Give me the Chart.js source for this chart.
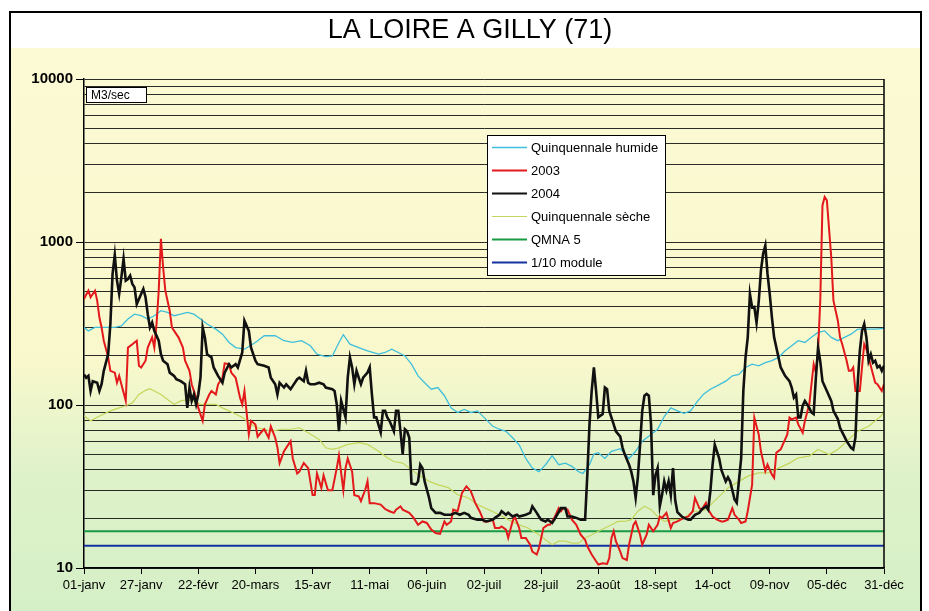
<!DOCTYPE html>
<html>
<head>
<meta charset="utf-8">
<title>La Loire à Gilly</title>
<script src="https://cdn.jsdelivr.net/npm/chart.js@4.4.1/dist/chart.umd.min.js"></script>
<style>
  html, body { margin: 0; padding: 0; background: #fff; }
  #wrap { width: 929px; height: 611px; position: relative; }
</style>
</head>
<body>
<div id="wrap"><canvas id="debitChart"></canvas></div>
<script>
const chartTitle = 'LA LOIRE A GILLY (71)';
const unitLabel = 'M3/sec';

// x axis: day of year, one tick every 26 days
const dayTicks = [0, 26, 52, 78, 104, 130, 156, 182, 208, 234, 260, 286, 312, 338, 364];
const dayLabels = ['01-janv', '27-janv', '22-févr', '20-mars', '15-avr', '11-mai', '06-juin',
  '02-juil', '28-juil', '23-août', '18-sept', '14-oct', '09-nov', '05-déc', '31-déc'];
const yLabels = [10, 100, 1000, 10000];

// débits journaliers (m3/s)
const days2003 = [0,2,3,5,6,7,8,9,11,12,14,15,16,17,19,20,22,23,24,25,26,28,29,31,32,33,34,35,36,37,39,40,42,43,45,46,48,49,51,52,54,55,57,58,60,61,63,64,66,67,69,71,72,73,75,76,78,79,81,82,84,85,87,88,89,91,94,95,97,98,100,102,104,105,106,108,109,111,113,115,116,118,119,120,122,123,125,126,128,129,130,132,135,137,139,141,142,144,145,148,150,152,154,156,158,160,162,164,165,167,168,170,172,174,176,178,180,182,184,186,187,189,190,192,193,195,196,198,199,201,203,204,206,207,209,211,212,214,216,217,218,220,222,224,226,228,229,231,233,234,236,238,239,240,241,242,244,245,247,248,250,251,253,254,256,257,259,261,262,263,265,267,268,270,273,275,277,278,280,281,283,284,286,288,290,291,293,295,296,298,299,301,302,304,305,307,308,310,311,313,314,315,317,318,320,321,322,324,325,327,328,330,332,333,334,335,336,337,338,340,341,343,344,345,347,348,349,350,351,353,354,355,356,357,359,360,361,363,364];
const flow2003 = [447,503,458,503,437,345,299,248,196,162,158,137,151,134,106,225,236,242,248,174,170,187,225,260,225,314,503,1046,700,503,379,299,272,260,225,187,162,134,111,96,80,101,116,122,116,134,147,180,178,158,147,111,101,122,66,80,76,64,69,71,63,74,63,55,44,52,60,47,38,39,44,41,28,28,38,31,37,30,30,41,49,30,41,47,39,28,27.5,25.7,30.3,34,25,25,24.5,23,22.3,21.8,22.8,23.9,22.8,21.8,20.3,18.4,19.3,18.9,17.2,16.4,16.2,19.3,18.4,19.3,22.8,22.3,28.9,31.7,29.6,25.1,22.3,19.3,19.3,19.8,17.6,17.6,18,17.2,15.3,19.3,20.7,17.6,15.3,15.3,13.9,12.6,12.1,13.2,17.6,18.4,18.4,20.3,23.3,22.3,23.3,22.8,19.8,18.4,16,14.9,13.6,12.1,11,10.5,10.7,10.6,11.5,15.3,16.8,14.6,12.6,11.5,11.2,13.9,18.4,19.3,16,13.9,16,18.4,16.8,18.4,20.7,20.3,21.8,17.6,18.9,19.3,20.3,20.7,22.3,26.9,23.3,22.8,25.1,22.8,20.7,19.8,19.3,19.3,19.8,23.3,21.2,19.8,18.9,19.3,22.3,32.5,83.6,66,52,39.3,43.1,37.4,35.7,50.9,53.4,57.3,66,83.6,81.6,83.6,76,67.6,79.7,101,178,158,215,437,1677,1888,1800,807,437,329,260,236,187,162,162,170,122,122,170,236,220,196,154,137,134,122,134];

const days2004 = [0,1,2,3,4,6,7,8,9,11,12,13,14,15,16,17,18,19,20,21,22,23,24,26,27,28,29,30,31,32,34,35,36,38,39,41,42,44,46,47,48,49,50,51,52,53,54,55,56,58,59,61,63,64,66,67,69,70,72,73,75,76,78,79,82,84,85,87,88,89,91,92,94,95,97,98,100,101,102,103,105,107,109,110,113,114,115,116,117,119,120,121,122,123,124,125,126,127,129,130,131,132,133,135,136,137,138,139,141,142,143,144,145,146,147,148,149,151,152,153,154,155,157,158,160,162,164,167,169,171,173,175,176,179,181,183,186,187,189,190,192,193,195,197,198,201,203,204,206,207,208,210,211,213,214,216,217,219,220,222,224,226,228,229,230,231,232,233,234,236,237,238,239,241,242,244,245,246,248,249,250,251,252,253,254,255,256,257,258,259,260,261,262,263,264,265,266,267,268,269,270,272,273,275,276,278,280,281,283,284,285,286,287,289,290,292,293,294,295,296,297,299,300,301,302,303,304,305,306,307,308,309,310,311,312,313,314,316,317,319,321,322,323,324,325,326,327,328,330,331,332,333,334,335,336,338,340,341,343,344,346,347,349,350,351,352,353,354,355,356,357,358,359,360,361,362,363,364];
const flow2004 = [154,147,151,122,140,137,122,134,162,205,314,637,830,580,480,607,788,580,593,622,553,527,416,480,515,458,361,299,321,285,248,205,187,178,158,151,144,140,134,96,128,106,116,101,116,147,299,260,205,196,170,151,137,158,178,170,178,170,210,329,285,225,187,178,174,170,147,134,116,137,128,134,125,131,144,147,140,162,137,134,134,137,134,128,125,122,101,69,106,84,147,196,170,134,162,147,134,147,158,170,116,84,84,68,92,92,84,80,69,92,92,69,50,71,69,63,33,32.5,34,43,41,34,27,23.3,21.8,21.8,21.2,21.2,21.8,21.2,21.8,21.2,20.3,19.8,19.8,19.3,19.8,20.3,21.2,22.3,21.2,21.8,20.7,21.2,20.7,21.2,21.8,23.9,21.8,20.7,19.8,19.3,19.8,18.9,19.8,22,23.3,23.3,20.7,20.7,20.3,19.8,19.8,37,76,122,170,122,84,88,128,125,92,76,69,64,55,50,43,39,34,27,36,57,92,114,117,114,76,28,37,41,24,28,34,30,34,28,41,26,22,20.7,20.3,19.8,19.8,21.2,21.8,22.8,23.9,22.8,29.6,43,57,47,40,34,36,34,30,26.3,25.1,47,122,196,260,480,397,400,320,430,668,846,951,637,480,345,260,196,170,151,140,128,111,116,84,84,99,106,96,90,88,147,225,185,140,122,106,92,82,72.5,64,60,54.6,53.4,63,134,215,285,314,260,187,205,182,187,170,174,162,174];

const daysHumide = [0,2,5,9,14,17,20,23,26,29,32,35,38,41,44,47,50,53,56,60,63,66,69,73,78,82,87,91,95,99,103,106,110,113,116,118,121,125,129,134,137,140,143,146,149,152,155,158,161,164,167,170,173,176,179,182,186,189,192,195,198,201,204,207,210,213,216,219,222,225,227,230,232,234,237,240,244,248,251,254,258,261,264,267,270,273,276,279,282,285,288,292,295,298,301,304,307,310,313,316,319,322,325,328,331,334,337,340,343,346,349,352,356,360,364];
const flowHumide = [299,285,299,299,299,306,337,361,353,337,353,379,370,353,361,370,361,337,314,292,272,242,225,220,242,266,266,248,242,248,231,205,198,200,242,270,236,225,215,205,210,220,210,200,178,151,137,125,128,114,96,90,94,90,92,84,74,71,69,63,57,47,41,39,43,49,43,44,42,39,38,43,50,51,47,52,54,47,52,60,66,71,85,96,92,89,92,105,117,125,131,140,151,154,170,178,174,182,187,196,215,231,248,242,260,279,285,260,248,260,272,292,292,292,295];

const daysSeche = [0,3,6,9,12,16,19,22,25,28,30,32,35,38,41,44,47,50,53,57,60,63,66,69,72,76,79,82,85,90,94,98,102,107,110,113,116,120,125,129,134,138,141,145,148,152,157,161,166,170,175,179,184,189,193,198,202,207,210,213,216,219,222,225,228,231,234,237,240,243,246,249,252,255,258,261,264,268,271,274,277,280,283,286,289,293,298,302,307,311,316,321,325,330,334,339,343,348,352,357,362,364];
const flowSeche = [86,80,84,88,92,96,99,103,116,123,126,122,116,108,101,106,108,106,101,101,101,96,92,88,84,76,72.5,71,69,71,71,72.5,67.6,61.5,54.6,53.4,54.6,57.3,58.7,57.3,52,47.4,45,44,41,37.4,34,32.5,31,28.2,26.9,24.5,22.8,21.2,19.8,18.4,17.6,16,14.9,13.9,14.6,14.6,14.2,14.2,15.3,16,16.8,17.6,18.4,19.3,19.3,19.8,22.3,23.9,22.8,20.7,19.3,19.8,19.8,20.7,22.3,22.3,22.8,25.1,27.5,31,34,36.6,38.3,38.3,41,44,47.4,48.6,53.4,49.7,53.4,61.5,69,74,84,90];

const qmna5 = 16.8;
const dixiemeModule = 13.7;

const FONT = '"Liberation Sans", Arial, sans-serif';

// grid lines 10, 20 ... 90, 100, 200 ... 10000
const yGrid = [];
for (let p = 10; p < 10000; p *= 10) {
  for (let k = 1; k < 10; k++) yGrid.push(k * p);
}
yGrid.push(10000);

const pts = (d, v) => d.map((x, i) => ({ x, y: v[i] }));
const flat = (v) => [{ x: 0, y: v }, { x: 364, y: v }];

const decor = {
  id: 'decor',
  beforeDraw(chart) {
    const c = chart.ctx;
    const W = chart.width, H = chart.height;
    c.save();
    c.fillStyle = '#fff';
    c.fillRect(0, 0, W, H);
    const g = c.createLinearGradient(0, 48, 0, H);
    g.addColorStop(0, '#fcfad4');
    g.addColorStop(0.55, '#f9f8cc');
    g.addColorStop(0.76, '#def2ca');
    g.addColorStop(1, '#d5efc6');
    c.fillStyle = g;
    c.fillRect(10, 48, 911, H - 48);
    c.strokeStyle = '#000';
    c.lineWidth = 2;
    c.strokeRect(10, 12, 911, H + 4);
    c.fillStyle = '#000';
    c.font = '27px ' + FONT;
    c.textAlign = 'center';
    c.textBaseline = 'middle';
    c.fillText(chartTitle, 470, 31);
    c.restore();
  },
  afterDraw(chart) {
    const c = chart.ctx;
    const a = chart.chartArea;
    c.save();
    // right edge of the plot
    c.strokeStyle = '#000';
    c.lineWidth = 1.5;
    c.beginPath();
    c.moveTo(a.right, a.top);
    c.lineTo(a.right, a.bottom);
    c.stroke();

    // unit box
    c.fillStyle = '#fff';
    c.fillRect(86.5, 87.5, 60, 15);
    c.lineWidth = 1;
    c.strokeRect(86.5, 87.5, 60, 15);
    c.fillStyle = '#000';
    c.font = '12px ' + FONT;
    c.textAlign = 'left';
    c.textBaseline = 'middle';
    c.fillText(unitLabel, 91, 95.5);

    // legend
    c.fillStyle = '#fff';
    c.fillRect(487.5, 135.5, 178, 140);
    c.strokeStyle = '#000';
    c.strokeRect(487.5, 135.5, 178, 140);
    c.font = '13px ' + FONT;
    chart.data.datasets.forEach((ds, i) => {
      const y = 147.5 + i * 23;
      c.strokeStyle = ds.borderColor;
      c.lineWidth = Math.min(ds.borderWidth, 2);
      c.beginPath();
      c.moveTo(492, y);
      c.lineTo(527, y);
      c.stroke();
      c.fillStyle = '#000';
      c.fillText(ds.label, 531, y + 0.5);
    });
    c.restore();
  }
};

const lineDs = (label, data, color, width, order) => ({
  label, data, order,
  borderColor: color,
  borderWidth: width,
  pointRadius: 0,
  fill: false,
  tension: 0
});

new Chart(document.getElementById('debitChart'), {
  type: 'line',
  data: {
    datasets: [
      lineDs('Quinquennale humide', pts(daysHumide, flowHumide), '#3fbfdc', 1.3, 2),
      lineDs('2003', pts(days2003, flow2003), '#e3191c', 2, 1),
      lineDs('2004', pts(days2004, flow2004), '#111111', 2.6, 0),
      lineDs('Quinquennale sèche', pts(daysSeche, flowSeche), '#c5d65c', 1.2, 3),
      lineDs('QMNA 5', flat(qmna5), '#199a45', 2, 4),
      lineDs('1/10 module', flat(dixiemeModule), '#1432a0', 2, 5)
    ]
  },
  options: {
    responsive: true,
    maintainAspectRatio: false,
    animation: false,
    layout: { padding: { left: 24, right: 45, top: 79, bottom: 18 } },
    plugins: {
      legend: { display: false },
      title: { display: false },
      tooltip: { enabled: false }
    },
    scales: {
      x: {
        type: 'linear',
        min: 0,
        max: 364,
        afterBuildTicks: (s) => { s.ticks = dayTicks.map(v => ({ value: v })); },
        afterFit: (s) => { s.height = 25; },
        ticks: {
          autoSkip: false,
          maxRotation: 0,
          padding: 4,
          color: '#000',
          font: { family: FONT, size: 13 },
          callback: (v) => dayLabels[dayTicks.indexOf(v)]
        },
        grid: { drawOnChartArea: false, tickLength: 6, color: '#000' },
        border: { color: '#000', width: 1.5 }
      },
      y: {
        type: 'logarithmic',
        min: 10,
        max: 10000,
        afterBuildTicks: (s) => { s.ticks = yGrid.map(v => ({ value: v })); },
        afterFit: (s) => { s.width = 60; },
        ticks: {
          autoSkip: false,
          padding: 3,
          color: '#000',
          font: { family: FONT, size: 15, weight: 'bold' },
          callback: (v) => (yLabels.includes(v) ? String(v) : '')
        },
        grid: {
          color: 'rgba(20,20,20,0.9)',
          lineWidth: 1,
          tickLength: 8,
          tickColor: (ctx) => (ctx.tick && yLabels.includes(ctx.tick.value) ? '#000' : 'rgba(0,0,0,0)')
        },
        border: { color: '#000', width: 1.5 }
      }
    }
  },
  plugins: [decor]
});
</script>
</body>
</html>
